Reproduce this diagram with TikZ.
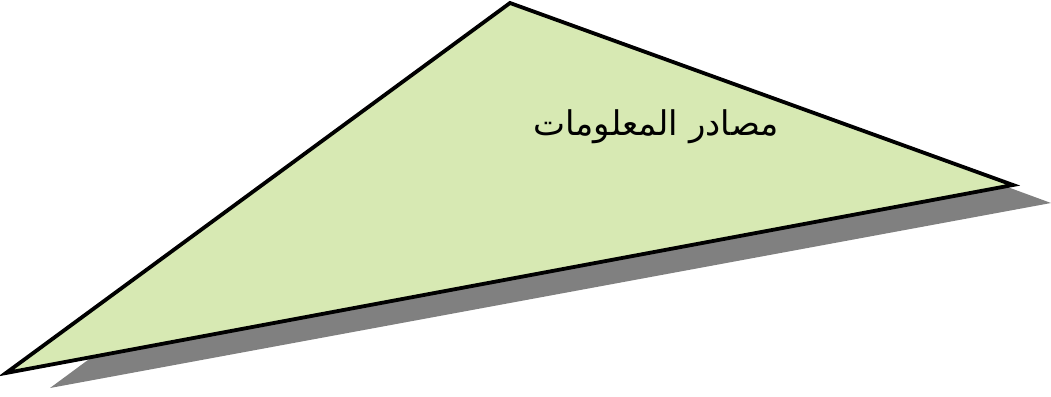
\documentclass[tikz,border=0pt]{standalone}
\usepackage{fontspec}
\newfontfamily\arabicfont[Script=Arabic]{DejaVu Sans}
\TeXXeTstate=1
\definecolor{trifill}{HTML}{D7E9B3}
\definecolor{shadowgray}{HTML}{808080}
\begin{document}
\begin{tikzpicture}[x=1pt,y=-1pt,
  tri/.style={fill=trifill,draw=black,line width=3.8pt,line join=miter},
  shadowtri/.style={fill=shadowgray},
  lbl/.style={font=\arabicfont\fontsize{34}{40}\selectfont,text=black}]
\useasboundingbox (0,0) rectangle (1051,396);
\coordinate (top) at (510,3);
\coordinate (right) at (1013,185);
\coordinate (left) at (6,373);
\fill[shadowtri] ([shift={(40,16)}]top) -- ([shift={(38,18)}]right) -- ([shift={(44,15)}]left) -- cycle;
\draw[tri] (top) -- (right) -- (left) -- cycle;
\node[lbl] (label) at (656,127) {\beginR مصادر المعلومات\endR};
\end{tikzpicture}
\end{document}
